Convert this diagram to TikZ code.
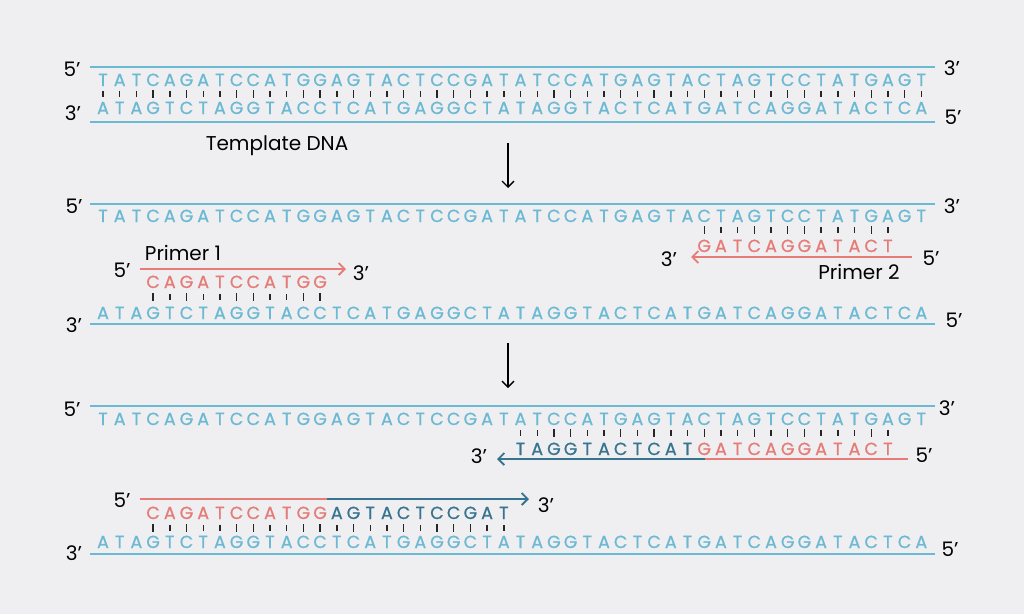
\documentclass[tikz,border=0pt]{standalone}
\usepackage{fontspec}
\setmainfont{Poppins}
\newfontfamily\basefont[FakeBold=0.8]{Poppins}
\usetikzlibrary{arrows.meta}

\definecolor{paper}{HTML}{EFEFF1}
\definecolor{strandblue}{HTML}{6CB9D4}
\definecolor{primerpink}{HTML}{E57C77}
\definecolor{newteal}{HTML}{37748F}

% the two strands of the template, one letter per base
\newcommand{\topseq}{T,A,T,C,A,G,A,T,C,C,A,T,G,G,A,G,T,A,C,T,C,C,G,A,T,A,T,C,C,A,T,G,A,G,T,A,C,T,A,G,T,C,C,T,A,T,G,A,G,T}
\newcommand{\botseq}{A,T,A,G,T,C,T,A,G,G,T,A,C,C,T,C,A,T,G,A,G,G,C,T,A,T,A,G,G,T,A,C,T,C,A,T,G,A,T,C,A,G,G,A,T,A,C,T,C,A}
% G-C pairs get a longer bond mark than A-T pairs
\newcommand{\bondlen}[1]{\if#1G4\else\if#1C4\else2.8\fi\fi}

% letters #2..#3 of list #1 on row #4, colour #5, names #6-i
\newcommand{\baserow}[6]{%
  \foreach \b [count=\i] in #1 {
    \ifnum\i<#2\relax\else\ifnum\i>#3\relax\else
      \node[base, text=#5] (#6-\i) at ({103+(\i-1)*16.7}, #4) {\b};
    \fi\fi}}
% bond marks for positions #1..#2 centred on row #3
\newcommand{\bondrow}[3]{%
  \foreach \b [count=\i] in \topseq {
    \ifnum\i<#1\relax\else\ifnum\i>#2\relax\else
      \draw[bond] ({103+(\i-1)*16.7}, {#3-\bondlen{\b}}) -- ++(0, {2*\bondlen{\b}});
    \fi\fi}}

\begin{document}
\begin{tikzpicture}[x=1pt, y=-1pt,
    base/.style={inner sep=0pt, anchor=center, text height=12pt, text depth=0pt,
      font=\basefont\fontsize{17.5}{17.5}\selectfont},
    bond/.style={black!85, line width=1.4pt},
    strand/.style={strandblue, line width=1.8pt},
    primer/.style={primerpink, line width=1.8pt},
    newstrand/.style={newteal, line width=1.8pt},
    tip/.style={-{Straight Barb[length=6pt, width=12pt]}},
    prime/.style={inner sep=0pt, font=\fontsize{20}{20}\selectfont},
    label/.style={inner sep=0pt, font=\fontsize{20}{20}\selectfont}]

  \fill[paper] (0,0) rectangle (1024,614);
  \useasboundingbox (0,0) rectangle (1024,614);

  %% template DNA
  \draw[strand] (90,67) -- (935,67);
  \draw[strand] (90,122) -- (935,122);
  \baserow{\topseq}{1}{50}{80}{strandblue}{a}
  \baserow{\botseq}{1}{50}{108}{strandblue}{b}
  \bondrow{1}{50}{94}
  \node[prime] (a5) at (72,69) {5'};
  \node[prime] (a3) at (952,68) {3'};
  \node[prime] (b3) at (73,113) {3'};
  \node[prime] (b5) at (953,117) {5'};
  \node[label] (tmpl) at (277,146) {Template DNA};

  \coordinate (s1) at (508,143);
  \coordinate (e1) at (508,188);
  \draw[tip, line width=1.3pt] (s1) -- (e1);

  %% primers annealed
  \draw[strand] (90,204) -- (935,204);
  \draw[strand] (90,324) -- (935,324);
  \baserow{\topseq}{1}{50}{216}{strandblue}{c}
  \baserow{\botseq}{1}{50}{313}{strandblue}{d}
  \node[prime] (c5) at (74,206) {5'};
  \node[prime] (c3) at (952,206) {3'};
  \node[prime] (d3) at (74,325) {3'};
  \node[prime] (d5) at (954,320) {5'};

  \coordinate (p1s) at (140,269);
  \coordinate (p1e) at (346,269);
  \draw[primer, tip] (p1s) -- (p1e);
  \baserow{\topseq}{4}{14}{282}{primerpink}{p}
  \bondrow{4}{14}{297}
  \node[prime] (p5) at (122,270) {5'};
  \node[prime] (p3) at (361,273) {3'};
  \node[label] (pr1) at (183,253) {Primer 1};

  \coordinate (p2s) at (912,257);
  \coordinate (p2e) at (691,257);
  \draw[primer, tip] (p2s) -- (p2e);
  \baserow{\botseq}{37}{48}{246}{primerpink}{q}
  \bondrow{37}{48}{230}
  \node[prime] (q3) at (669,259) {3'};
  \node[prime] (q5) at (931,258) {5'};
  \node[label] (pr2) at (859,272) {Primer 2};

  \coordinate (s2) at (508,343);
  \coordinate (e2) at (508,388);
  \draw[tip, line width=1.3pt] (s2) -- (e2);

  %% primers extended
  \draw[strand] (90,406) -- (935,406);
  \draw[strand] (90,554) -- (935,554);
  \baserow{\topseq}{1}{50}{419}{strandblue}{e}
  \baserow{\botseq}{1}{50}{542}{strandblue}{f}
  \node[prime] (e5) at (72,409) {5'};
  \node[prime] (e3) at (947,408) {3'};
  \node[prime] (f3) at (74,553) {3'};
  \node[prime] (f5) at (950,549) {5'};

  \coordinate (u1) at (908,459);
  \coordinate (u2) at (705,459);
  \coordinate (u3) at (497,459);
  \draw[primer] (u1) -- (u2);
  \draw[newstrand, tip] (u2) -- (u3);
  \baserow{\botseq}{26}{36}{449}{newteal}{u}
  \baserow{\botseq}{37}{48}{449}{primerpink}{v}
  \bondrow{26}{48}{433}
  \node[prime] (u3l) at (479,456) {3'};
  \node[prime] (u5l) at (924,455) {5'};

  \coordinate (w1) at (140,499);
  \coordinate (w2) at (327,499);
  \coordinate (w3) at (529,499);
  \draw[primer] (w1) -- (w2);
  \draw[newstrand, tip] (w2) -- (w3);
  \baserow{\topseq}{4}{14}{513}{primerpink}{w}
  \baserow{\topseq}{15}{25}{513}{newteal}{x}
  \bondrow{4}{25}{528}
  \node[prime] (w5l) at (122,500) {5'};
  \node[prime] (w3l) at (546,505) {3'};
\end{tikzpicture}
\end{document}
